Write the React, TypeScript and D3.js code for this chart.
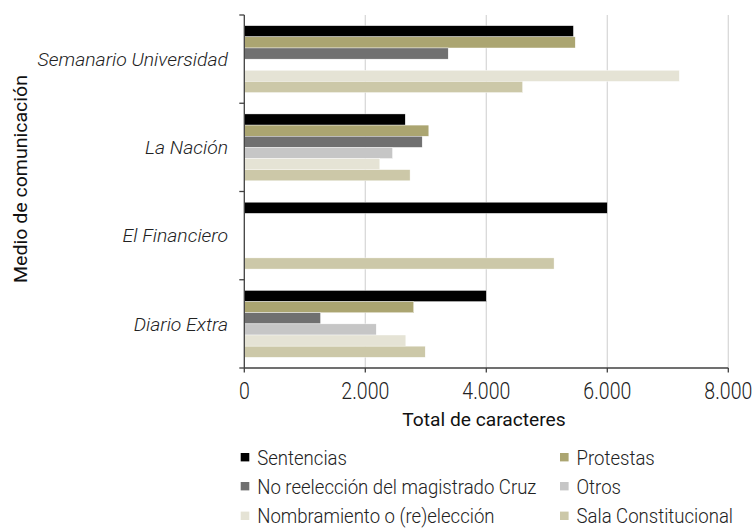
import React from "react";
import * as d3 from "d3";

const categories = ["Semanario Universidad", "La Nación", "El Financiero", "Diario Extra"];
const seriesNames = [
  "Sentencias",
  "Protestas",
  "No reelección del magistrado Cruz",
  "Otros",
  "Nombramiento o (re)elección",
  "Sala Constitucional",
];
const sentencias = [5440, 2660, 6000, 4000];
const protestas = [5470, 3050, 0, 2800];
const noReeleccion = [3370, 2940, 0, 1260];
const otros = [0, 2450, 0, 2180];
const nombramiento = [7190, 2240, 0, 2670];
const sala = [4600, 2740, 5120, 2990];
const seriesValues = [sentencias, protestas, noReeleccion, otros, nombramiento, sala];
const colors = ["#000000", "#aba571", "#707070", "#c6c6c6", "#e5e3d5", "#ccc8a8"];
const xTicks = [0, 2000, 4000, 6000, 8000];
const xTitle = "Total de caracteres";
const yTitle = "Medio de comunicación";

const FONT = "Roboto, 'Open Sans', sans-serif";

function T(props: any) {
  const { x, y, sx = 1, rotate, anchor = "start", size, weight = 400, italic, fill = "#000", children } = props;
  return (
    <text
      transform={`translate(${x},${y})${rotate ? ` rotate(${rotate})` : ""} scale(${sx},1)`}
      textAnchor={anchor}
      fontSize={size}
      fontWeight={weight}
      fontStyle={italic ? "italic" : "normal"}
      fontFamily={FONT}
      fill={fill}
    >
      {children}
    </text>
  );
}

export default function App() {
  const W = 754, H = 531;
  const x = d3.scaleLinear().domain([0, 8000]).range([244.3, 728.3]);
  const y = d3.scaleBand<string>().domain(categories).range([15, 368]).paddingInner(0).paddingOuter(0);
  const inner = d3
    .scaleBand<string>()
    .domain(seriesNames)
    .range([0, y.bandwidth()])
    .paddingInner(0)
    .paddingOuter(0.96);
  const boundaries = categories.map((c) => y(c) as number).concat([368]);
  const axisColor = "#404040";

  const legendCols = [240.7, 560];
  const legendTextOffset = 16.5;
  const legendRows = [457.2, 486.2, 515.8];

  return (
    <svg width={W} height={H} style={{ position: "absolute", left: 0, top: 0, background: "#fff" }}>
      {/* grid */}
      {xTicks.filter((t) => t > 0).map((t) => (
        <line key={"g" + t} x1={x(t)} x2={x(t)} y1={15} y2={368} stroke="#d9d9d9" strokeWidth={1.3} />
      ))}
      {/* bars */}
      {categories.map((c, ci) => (
        <g key={c} transform={`translate(0,${y(c)})`}>
          {seriesNames.map((s, si) => {
            const v = seriesValues[si][ci];
            if (!v) return null;
            return (
              <rect
                key={s}
                x={x(0)}
                y={inner(s)}
                width={x(v) - x(0)}
                height={inner.bandwidth()}
                fill={colors[si]}
                stroke="#ffffff"
                strokeWidth={0.4}
              />
            );
          })}
        </g>
      ))}
      {/* y axis */}
      <line x1={x(0)} x2={x(0)} y1={15} y2={368} stroke={axisColor} strokeWidth={1.3} />
      {boundaries.map((b, i) => (
        <line key={"yt" + i} x1={x(0) - 5} x2={x(0)} y1={b} y2={b} stroke={axisColor} strokeWidth={1.3} />
      ))}
      {/* x axis */}
      <line x1={x(0)} x2={x(8000)} y1={368} y2={368} stroke={axisColor} strokeWidth={1.3} />
      {xTicks.map((t) => (
        <line key={"xt" + t} x1={x(t)} x2={x(t)} y1={368} y2={372.5} stroke={axisColor} strokeWidth={1.3} />
      ))}
      {xTicks.map((t) => (
        <T key={"xl" + t} x={x(t)} y={399} anchor="middle" size={23.5} weight={300} sx={0.83} fill="#222">
          {d3.format(",")(t).replace(/,/g, ".")}
        </T>
      ))}
      {/* category labels */}
      {categories.map((c) => (
        <T key={"cl" + c} x={228} y={(y(c) as number) + y.bandwidth() / 2 + 6.8} anchor="end" size={19.2} weight={300} sx={1.01} italic fill="#222">
          {c}
        </T>
      ))}
      {/* titles */}
      <T x={484} y={426} anchor="middle" size={18.3} weight={400} sx={1.05} fill="#111">
        {xTitle}
      </T>
      <T x={27} y={179} rotate={-90} anchor="middle" size={19} weight={400} sx={1.03} fill="#111">
        {yTitle}
      </T>
      {/* legend */}
      {seriesNames.map((s, i) => {
        const col = i % 2;
        const row = Math.floor(i / 2);
        const lx = legendCols[col];
        const cy = legendRows[row];
        return (
          <g key={"lg" + s}>
            <rect x={lx} y={cy - 4.2} width={8.6} height={8.4} fill={colors[i]} />
            <T x={lx + legendTextOffset} y={cy + 7.5} size={21} weight={300} sx={0.885} fill="#222">
              {s}
            </T>
          </g>
        );
      })}
    </svg>
  );
}
